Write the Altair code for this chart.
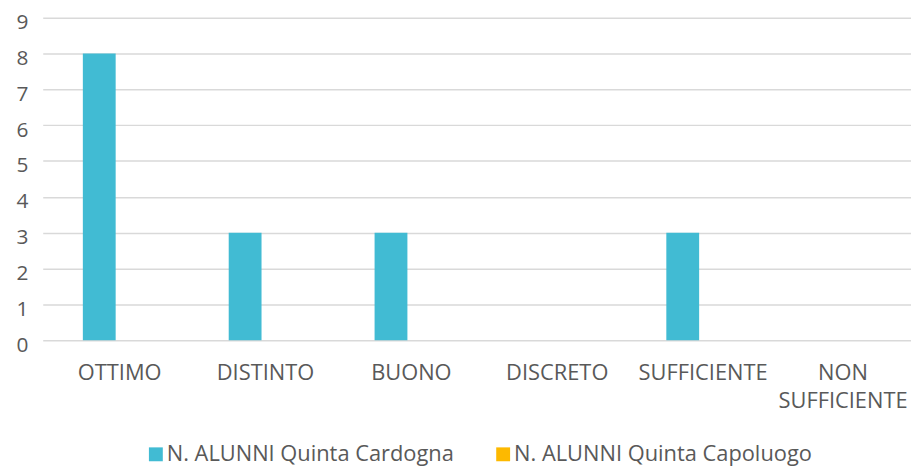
import altair as alt
import pandas as pd

categories = ["OTTIMO", "DISTINTO", "BUONO", "DISCRETO", "SUFFICIENTE", "NON SUFFICIENTE"]
series_names = ["N. ALUNNI Quinta Cardogna", "N. ALUNNI Quinta Capoluogo"]
cardogna = [8, 3, 3, 0, 3, 0]
capoluogo = [0, 0, 0, 0, 0, 0]
y_ticks = [0, 1, 2, 3, 4, 5, 6, 7, 8, 9]
colors = ["#41BBD3", "#FDB900"]

rows = []
for c, a, b in zip(categories, cardogna, capoluogo):
    rows.append({"cat": c, "serie": series_names[0], "val": a})
    rows.append({"cat": c, "serie": series_names[1], "val": b})
df = pd.DataFrame(rows)

FONT = "Open Sans"
TXT = "#595959"
FS = 22

chart = alt.Chart(df).mark_bar().encode(
    x=alt.X("cat:N", sort=categories, title=None,
            scale=alt.Scale(range=[-5, 877], paddingInner=0.55, paddingOuter=0.275),
            axis=alt.Axis(labelAngle=0, domain=False, ticks=False, grid=False,
                          labelExpr="split(datum.label, ' ')",
                          labelFont=FONT, labelFontSize=FS, labelColor=TXT,
                          labelOffset={"condition": {"test": "datum.value === 'NON SUFFICIENTE'", "value": -2},
                                       "value": 4},
                          labelPadding=23, labelLineHeight=28)),
    xOffset=alt.XOffset("serie:N", sort=series_names, scale=alt.Scale(paddingInner=0, paddingOuter=0)),
    y=alt.Y("val:Q", title=None,
            scale=alt.Scale(domain=[0, 9], nice=False),
            axis=alt.Axis(values=y_ticks, domain=False, ticks=False, grid=True,
                          gridColor="#D9D9D9", gridWidth=1.5,
                          labelFont=FONT, labelFontSize=21, labelColor=TXT,
                          labelPadding=20, labelOffset=5)),
    color=alt.Color("serie:N", sort=series_names, title=None,
                    scale=alt.Scale(domain=series_names, range=colors),
                    legend=alt.Legend(orient="none", direction="horizontal",
                                      legendX=98, legendY=429,
                                      symbolType="square", symbolSize=196,
                                      symbolStrokeWidth=0, symbolOpacity=1,
                                      labelFont=FONT, labelFontSize=FS, labelColor=TXT,
                                      labelLimit=0, labelOffset=0, columnPadding=38)),
).properties(
    width=870, height=325,
    autosize=alt.AutoSizeParams(type="none"),
    padding={"left": 40, "top": 8, "right": 0, "bottom": 126},
).configure_view(stroke=None)

chart.save("out.html", embed_options={"renderer": "svg", "actions": False})
